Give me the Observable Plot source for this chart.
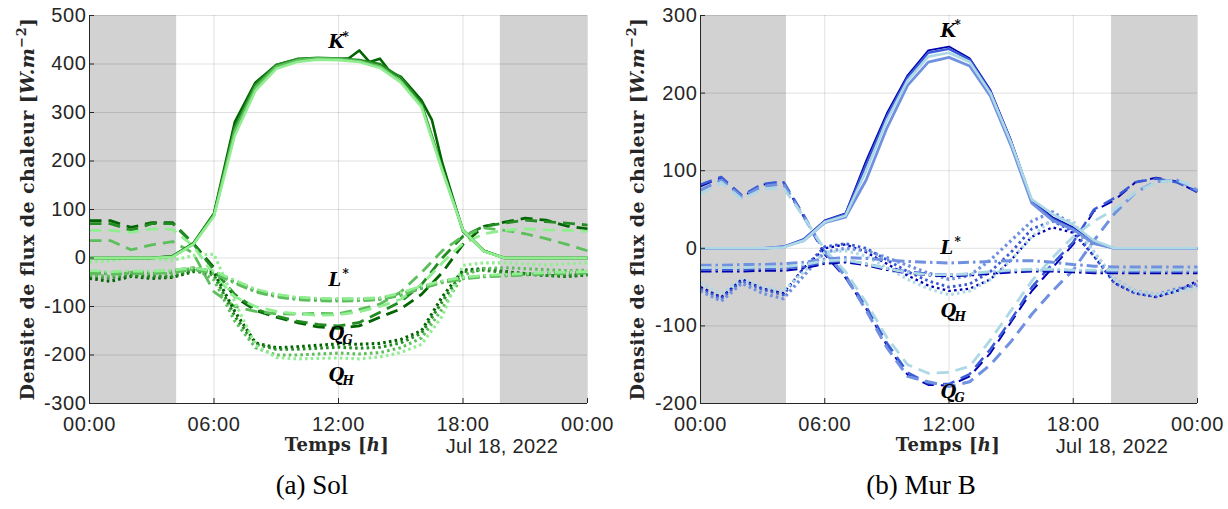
<!DOCTYPE html>
<html><head><meta charset="utf-8">
<script src="https://cdn.jsdelivr.net/npm/d3@7"></script>
<script src="https://cdn.jsdelivr.net/npm/@observablehq/plot@0.6"></script>
<style>
body{margin:0;background:#fff;}
#root{position:relative;width:1228px;height:509px;overflow:hidden;background:#fff;}
.panel{position:absolute;top:0;}
.panel svg g[aria-label="x-axis tick label"] text, .panel svg g[aria-label="y-axis tick label"] text{letter-spacing:0.6px;}
#overlay{position:absolute;left:0;top:0;pointer-events:none;}
</style></head>
<body><div id="root">
<div id="sol" class="panel" style="left:0"></div>
<div id="mur" class="panel" style="left:614px"></div>
<svg id="overlay" width="1228" height="509" fill="#262626">
  <g font-family="DejaVu Serif" font-weight="bold" font-size="19" letter-spacing="0.4">
    <text transform="translate(34,209) rotate(-90)" text-anchor="middle">Densite de flux de chaleur [<tspan font-style="italic">W.m</tspan><tspan dy="-8" font-size="13">−2</tspan><tspan dy="8">]</tspan></text>
    <text transform="translate(644,209) rotate(-90)" text-anchor="middle">Densite de flux de chaleur [<tspan font-style="italic">W.m</tspan><tspan dy="-8" font-size="13">−2</tspan><tspan dy="8">]</tspan></text>
    <text x="337" y="451" text-anchor="middle" font-size="18">Temps [<tspan font-style="italic">h</tspan>]</text>
    <text x="948" y="451" text-anchor="middle" font-size="18">Temps [<tspan font-style="italic">h</tspan>]</text>
  </g>
  <g font-family="Liberation Sans" font-size="20" letter-spacing="0.3">
    <text x="502" y="453" text-anchor="middle">Jul 18, 2022</text>
    <text x="1112" y="453" text-anchor="middle">Jul 18, 2022</text>
  </g>
  <g font-family="Liberation Serif" font-size="27" fill="#000">
    <text x="312" y="494" text-anchor="middle">(a) Sol</text>
    <text x="921" y="494" text-anchor="middle">(b) Mur B</text>
  </g>
</svg>
</div>
<script>
// ---------- shared ----------
const HOURS = [0,1,2,3,4,5,6,7,8,9,10,11,12,13,14,15,16,17,18,19,20,21,22,23,24];
const X_TICKS = [0,6,12,18,24];
const SOL_Y_TICKS = [-300,-200,-100,0,100,200,300,400,500];
const MUR_Y_TICKS = [-200,-100,0,100,200,300];
const SOL_Y_DOMAIN = [-300,500];
const MUR_Y_DOMAIN = [-200,300];
const SOL_NIGHT = [{start:0,end:4.2},{start:19.8,end:24}];
const MUR_NIGHT = [{start:0,end:4.15},{start:19.85,end:24}];
const SOL_COLORS = ["#006400","#228b22","#5cbf5c","#90ee90"];
const MUR_COLORS = ["#0000b0","#3a5bd6","#7090e0","#add8e6"];

// ---------- (a) Sol ----------
const SOL_K1_HOURS = [0,1,2,3,4,5,6,7,8,9,10,11,12,12.5,13,13.5,14,14.5,15,15.5,16,16.5,17,18,19,20,21,22,23,24];
const SOL_K1 = [0,0,0,0,4,30,92,280,362,398,410,412,410,412,428,404,411,383,374,350,325,285,196,55,15,0,0,0,0,0];
const SOL_K2 = [0,0,0,0,3, 30,90,270,358,398, 410,413,411,408,400, 372,318,185,58,15, 0,0,0,0,0];
const SOL_K3 = [0,0,0,0,3, 28,88,262,352,395, 408,412,410,406,395, 365,314,182,57,14, 0,0,0,0,0];
const SOL_K4 = [0,0,0,0,2, 28,86,252,345,390, 404,409,408,404,392, 362,311,180,57,14, 0,0,0,0,0];

const SOL_L1 = [-30,-32,-30,-31,-28, -22,-30,-50,-68,-78, -84,-86,-87,-87,-85, -76,-62,-50,-42,-38, -36,-34,-32,-31,-30];
const SOL_L2 = [-28,-30,-28,-29,-26, -20,-28,-48,-66,-76, -82,-84,-85,-85,-83, -74,-60,-48,-41,-37, -35,-33,-31,-30,-29];
const SOL_L3 = [-32,-33,-32,-32,-30, -24,-32,-52,-70,-80, -86,-88,-89,-88,-86, -77,-63,-51,-43,-39, -37,-35,-33,-32,-31];
const SOL_L4 = [-26,-28,-27,-27,-25, -20,-27,-46,-64,-75, -81,-83,-84,-84,-82, -72,-58,-47,-40,-36, -34,-32,-30,-29,-28];

const SOL_G1 = [77,77,63,73,73, 30,-20,-80,-108,-122, -133,-142,-145,-140,-122, -105,-75,-30,28,65, 74,82,78,66,60];
const SOL_G2 = [71,71,57,71,71, 30,-25,-75,-105,-120, -130,-137,-140,-133,-112, -90,-55,0,45,65, 72,78,75,72,68];
const SOL_G3 = [36,36,17,27,34, 10,-70,-100,-110,-115, -116,-114,-115,-106,-95, -70,-30,15,45,62, 57,50,40,28,15];
const SOL_G4 = [57,57,53,60,59, 25,-35,-80,-100,-110, -115,-118,-117,-111,-100, -85,-55,-10,30,50, 57,60,58,57,55];

const SOL_H1 = [-42,-48,-38,-42,-40, -28,-30,-110,-175,-185, -183,-180,-177,-178,-176, -168,-150,-80,-25,-22, -28,-32,-36,-38,-35];
const SOL_H2 = [-38,-40,-36,-38,-38, -25,-35,-120,-178,-188, -188,-186,-184,-186,-184, -175,-155,-90,-28,-25, -30,-33,-36,-36,-34];
const SOL_H3 = [-35,-38,-30,-32,-33, -20,-45,-130,-185,-200, -200,-198,-196,-198,-195, -185,-165,-105,-35,-22, -20,-22,-24,-26,-25];
const SOL_H4 = [-8,-6,0,-2,-5, 5,8,-90,-180,-205, -208,-207,-206,-208,-204, -195,-178,-120,-15,-10, -10,-12,-14,-12,-10];

// ---------- (b) Mur B ----------
const MUR_K1 = [0,0,0,0,2, 12,36,45,113,174, 223,255,260,245,204, 139,62,40,27,8, 0,0,0,0,0];
const MUR_K2 = [0,0,0,0,2, 12,35,44,108,170, 220,252,257,243,202, 137,60,38,25,7, 0,0,0,0,0];
const MUR_K3 = [0,0,0,0,2, 10,33,40,88,155, 210,240,246,235,196, 132,58,36,24,6, 0,0,0,0,0];
const MUR_K4 = [0,0,0,0,1, 10,34,42,100,165, 216,247,252,240,200, 136,63,44,30,10, 0,0,0,0,0];

const MUR_L1 = [-30,-30,-30,-29,-29, -26,-20,-18,-22,-28, -32,-35,-36,-35,-33, -31,-30,-30,-31,-32, -32,-32,-32,-32,-32];
const MUR_L2 = [-27,-27,-27,-26,-26, -23,-18,-16,-20,-26, -30,-33,-34,-33,-31, -29,-28,-28,-29,-30, -30,-30,-30,-30,-30];
const MUR_L3 = [-22,-22,-21,-21,-20, -18,-14,-12,-13,-15, -17,-18,-19,-18,-17, -16,-16,-18,-21,-23, -24,-24,-24,-24,-24];
const MUR_L4 = [-25,-25,-25,-24,-24, -21,-16,-15,-20,-26, -31,-34,-34,-33,-30, -28,-27,-27,-28,-28, -28,-28,-28,-28,-28];

const MUR_G1 = [80,91,66,82,85, 40,-8,-38,-78,-125, -163,-176,-177,-165,-135, -95,-55,-25,5,48, 62,85,91,86,72];
const MUR_G2 = [82,92,68,83,86, 42,-5,-35,-75,-122, -160,-174,-175,-162,-130, -92,-50,-20,8,50, 65,85,90,85,73];
const MUR_G3 = [75,88,66,80,83, 40,-5,-36,-80,-128, -165,-172,-178,-172,-150, -120,-85,-55,-28,10, 45,72,86,88,75];
const MUR_G4 = [70,85,63,76,78, 40,-2,-30,-70,-115, -150,-161,-160,-152,-118, -80,-42,-12,15,35, 50,72,85,88,78];

const MUR_H1 = [-50,-63,-40,-52,-58, -25,0,5,-5,-20, -35,-48,-55,-52,-40, -15,15,27,20,-10, -45,-58,-63,-55,-42];
const MUR_H2 = [-52,-65,-42,-53,-60, -25,2,6,0,-15, -30,-42,-50,-46,-30, -5,25,35,22,-10, -45,-58,-62,-55,-45];
const MUR_H3 = [-55,-68,-45,-58,-65, -35,-5,0,-3,-12, -22,-32,-40,-35,-15, 10,35,47,30,-5, -40,-55,-60,-52,-48];
const MUR_H4 = [-45,-58,-40,-50,-55, -30,-5,-3,-10,-25, -40,-52,-60,-55,-40, -15,15,38,35,-5, -40,-55,-60,-55,-52];

// annotation labels (hour, value)
const SOL_LABELS = [
  {t:11.52, v:444, base:"K", sup:"*", sub:""},
  {t:11.52, v:-46, base:"L", sup:"*", sub:""},
  {t:11.52, v:-158, base:"Q", sup:"", sub:"G"},
  {t:11.52, v:-242, base:"Q", sup:"", sub:"H"}
];
const MUR_LABELS = [
  {t:11.59, v:280, base:"K", sup:"*", sub:""},
  {t:11.59, v:0, base:"L", sup:"*", sub:""},
  {t:11.59, v:-81, base:"Q", sup:"", sub:"H"},
  {t:11.59, v:-186, base:"Q", sup:"", sub:"G"}
];

const STYLES = {
  K: {dash: null, extra: 0},
  L: {dash: "11,4,2.5,4", extra: 0.2},
  G: {dash: "12,7", extra: 0.2},
  H: {dash: "2.6,3.2", extra: 0.5}
};

function seriesMarks(groups, colors, widths) {
  const marks = [];
  for (const [kind, list] of groups) {
    list.forEach((s, i) => {
      const rows = s.values.map((v, j) => ({t: s.hours[j], v}));
      marks.push(Plot.line(rows, {
        x: "t", y: "v", stroke: colors[i],
        strokeWidth: widths[i] + STYLES[kind].extra,
        strokeDasharray: STYLES[kind].dash,
        strokeLinecap: "butt", strokeLinejoin: "round"
      }));
    });
  }
  return marks;
}

function panel({width, marginLeft, marginRight, yDomain, yTicks, night, groups, colors, widths, labels}) {
  const plotW = width - marginLeft - marginRight;
  const plotH = 460 - 15 - 57;
  const tickLenY = (yDomain[1] - yDomain[0]) * 5 / plotH;
  const tickLenX = 24 * 5 / plotW;
  const fmt = h => String(h % 24).padStart(2, "0") + ":00";
  return Plot.plot({
    width, height: 460,
    marginLeft, marginRight, marginTop: 15, marginBottom: 57,
    style: {fontFamily: "Liberation Sans, Arial, sans-serif", fontSize: "20px", color: "#262626", background: "transparent"},
    x: {domain: [0, 24]},
    y: {domain: yDomain},
    marks: [
      Plot.rect(night, {x1: "start", x2: "end", fill: "#d2d2d2"}),
      Plot.gridX(X_TICKS, {stroke: "#000", strokeOpacity: 0.12}),
      Plot.gridY(yTicks, {stroke: "#000", strokeOpacity: 0.12}),
      ...seriesMarks(groups, colors, widths),
      Plot.ruleX(X_TICKS, {x: d => d, y1: yDomain[0], y2: yDomain[0] + tickLenY, stroke: "#262626"}),
      Plot.ruleY(yTicks, {y: d => d, x1: 0, x2: tickLenX, stroke: "#262626"}),
      Plot.ruleX([0], {stroke: "#262626", strokeWidth: 1}),
      Plot.ruleY([yDomain[0]], {stroke: "#262626", strokeWidth: 1}),
      Plot.axisX({ticks: X_TICKS, tickSize: 0, tickPadding: 13, tickFormat: fmt, label: null}),
      Plot.axisY({ticks: yTicks, tickSize: 0, tickPadding: 3, tickFormat: d => String(d), label: null}),
      Plot.text(labels, {x: "t", y: "v", text: "base", textAnchor: "start", fontFamily: "DejaVu Serif", fontWeight: "bold", fontStyle: "italic", fontSize: 18, fill: "#000"}),
      Plot.text(labels.filter(d => d.sup), {x: "t", y: "v", text: "sup", textAnchor: "start", dx: 14, dy: -6, fontFamily: "DejaVu Serif", fontWeight: "bold", fontSize: 12, fill: "#000"}),
      Plot.text(labels.filter(d => d.sub), {x: "t", y: "v", text: "sub", textAnchor: "start", dx: 14, dy: 6, fontFamily: "DejaVu Serif", fontWeight: "bold", fontStyle: "italic", fontSize: 12, fill: "#000"})
    ]
  });
}

const solGroups = [
  ["G", [{hours: HOURS, values: SOL_G1},{hours: HOURS, values: SOL_G2},{hours: HOURS, values: SOL_G3},{hours: HOURS, values: SOL_G4}]],
  ["H", [{hours: HOURS, values: SOL_H1},{hours: HOURS, values: SOL_H2},{hours: HOURS, values: SOL_H3},{hours: HOURS, values: SOL_H4}]],
  ["L", [{hours: HOURS, values: SOL_L1},{hours: HOURS, values: SOL_L2},{hours: HOURS, values: SOL_L3},{hours: HOURS, values: SOL_L4}]],
  ["K", [{hours: SOL_K1_HOURS, values: SOL_K1},{hours: HOURS, values: SOL_K2},{hours: HOURS, values: SOL_K3},{hours: HOURS, values: SOL_K4}]]
];
const murGroups = [
  ["G", [{hours: HOURS, values: MUR_G1},{hours: HOURS, values: MUR_G2},{hours: HOURS, values: MUR_G3},{hours: HOURS, values: MUR_G4}]],
  ["H", [{hours: HOURS, values: MUR_H1},{hours: HOURS, values: MUR_H2},{hours: HOURS, values: MUR_H3},{hours: HOURS, values: MUR_H4}]],
  ["L", [{hours: HOURS, values: MUR_L1},{hours: HOURS, values: MUR_L2},{hours: HOURS, values: MUR_L3},{hours: HOURS, values: MUR_L4}]],
  ["K", [{hours: HOURS, values: MUR_K1},{hours: HOURS, values: MUR_K2},{hours: HOURS, values: MUR_K3},{hours: HOURS, values: MUR_K4}]]
];

document.getElementById("sol").append(panel({
  width: 614, marginLeft: 89, marginRight: 27,
  yDomain: SOL_Y_DOMAIN, yTicks: SOL_Y_TICKS, night: SOL_NIGHT,
  groups: solGroups, colors: SOL_COLORS, widths: [2.6, 2.6, 2.6, 2.6], labels: SOL_LABELS
}));
document.getElementById("mur").append(panel({
  width: 614, marginLeft: 86, marginRight: 31,
  yDomain: MUR_Y_DOMAIN, yTicks: MUR_Y_TICKS, night: MUR_NIGHT,
  groups: murGroups, colors: MUR_COLORS, widths: [1.8, 2.3, 2.8, 2.6], labels: MUR_LABELS
}));
</script>
</body></html>
